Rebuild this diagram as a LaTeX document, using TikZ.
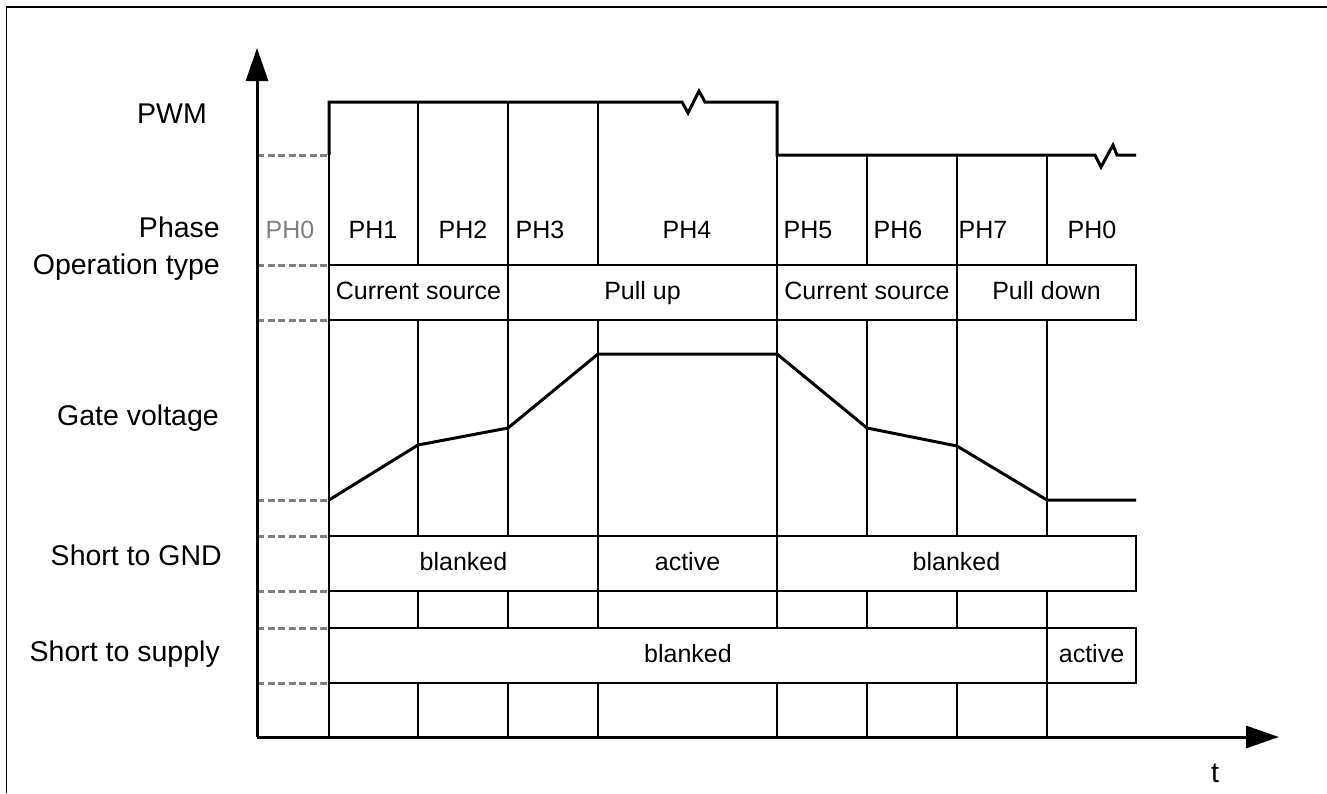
\documentclass[tikz,border=0pt]{standalone}
\usepackage{fontspec}
\setmainfont{Liberation Sans}
\usetikzlibrary{arrows.meta}
\begin{document}
\begin{tikzpicture}[x=1pt,y=-1pt,
  lbl/.style={font=\fontsize{25}{29}\selectfont, inner sep=0pt, text height=18pt, text depth=5pt},
  side/.style={font=\fontsize{28.5}{33}\selectfont, inner sep=0pt, text height=20.5pt, text depth=6pt},
  seg/.style={draw, line width=2pt, fill=white, font=\fontsize{25}{29}\selectfont, inner sep=0pt, text height=18pt, text depth=5pt, minimum height=55pt},
  grid/.style={line width=1.5pt},
  sig/.style={line width=3pt, line join=miter},
  ref/.style={gray, line width=3pt, dash pattern=on 7pt off 3.5pt},
  axis/.style={line width=3pt, -{Triangle[width=22pt,length=33pt]}}]
\useasboundingbox (0,0) rectangle (1327,793);
% frame
\draw[line width=1.5pt] (6.5,793) -- (6.5,7) -- (1327,7);
% vertical grid lines
\foreach \x in {329,418,508,598,777} \draw[grid] (\x,102) -- (\x,737);
\foreach \x in {867,957,1047} \draw[grid] (\x,155) -- (\x,737);
% reference dashed lines
\foreach \y in {155,265,320,500,536,591,628,683} \draw[ref] (257,\y) -- (329,\y);
% axes
\coordinate (o) at (257,737);
\coordinate (ytip) at (257,48);
\coordinate (xtip) at (1279,737);
\draw[axis] (o) -- (ytip);
\draw[axis] (o) -- (xtip);
% PWM
\draw[sig] (329,155) -- (329,102) -- (682,102) -- (688,113) -- (699,91) -- (705,102) -- (777,102) -- (777,155) -- (1095,155) -- (1101,167) -- (1113,145) -- (1117,155) -- (1136,155);
% gate voltage
\draw[sig] (329,500) -- (418,445) -- (508,428) -- (598,354) -- (777,354) -- (867,428) -- (957,446) -- (1047,500) -- (1136,500);
% left labels
\node[side] (lpwm) at (172,116) {PWM};
\node[side, anchor=east] (lph) at (220,230) {Phase};
\node[side, anchor=east] (lop) at (220,267) {Operation type};
\node[side, anchor=east] (lgv) at (219,418) {Gate voltage};
\node[side, anchor=east] (lgnd) at (222,558) {Short to GND};
\node[side, anchor=east] (lsup) at (220,654) {Short to supply};
\node[side] (lt) at (1215,775) {t};
% phase labels
\node[lbl, text=gray] (p0a) at (290,232) {PH0};
\node[lbl] (p1) at (373,232) {PH1};
\node[lbl] (p2) at (463,232) {PH2};
\node[lbl] (p3) at (540,232) {PH3};
\node[lbl] (p4) at (687,232) {PH4};
\node[lbl] (p5) at (808,232) {PH5};
\node[lbl] (p6) at (898,232) {PH6};
\node[lbl] (p7) at (983,232) {PH7};
\node[lbl] (p0b) at (1092,232) {PH0};
% operation type boxes
\node[seg, minimum width=179pt] (op1) at (418.5,292.5) {Current source};
\node[seg, minimum width=269pt] (op2) at (642.5,292.5) {Pull up};
\node[seg, minimum width=180pt] (op3) at (867,292.5) {Current source};
\node[seg, minimum width=179pt] (op4) at (1046.5,292.5) {Pull down};
% short to GND
\node[seg, minimum width=269pt] (g1) at (463.5,563.5) {blanked};
\node[seg, minimum width=179pt] (g2) at (687.5,563.5) {active};
\node[seg, minimum width=359pt] (g3) at (956.5,563.5) {blanked};
% short to supply
\node[seg, minimum width=718pt] (s1) at (688,655.5) {blanked};
\node[seg, minimum width=89pt] (s2) at (1091.5,655.5) {active};
\end{tikzpicture}
\end{document}
